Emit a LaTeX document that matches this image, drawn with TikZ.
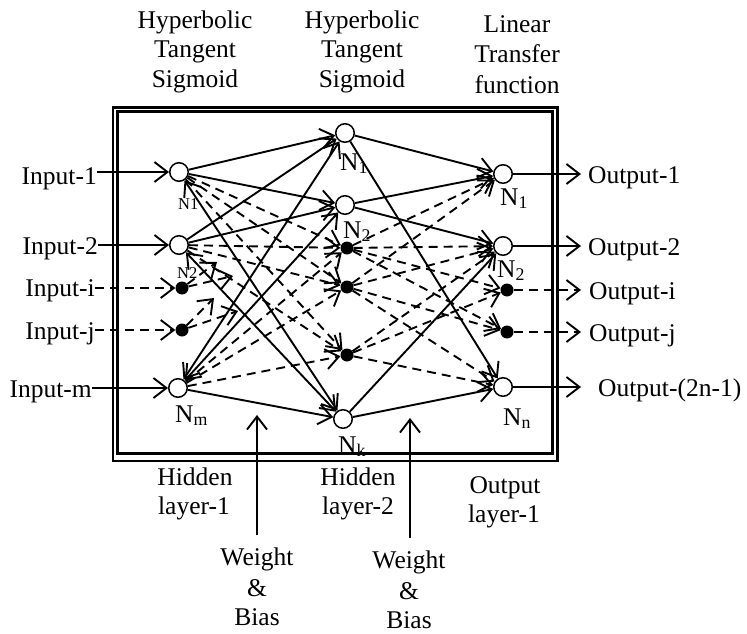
\documentclass[tikz,border=0pt]{standalone}
\usepackage{fontspec}
\setmainfont{Liberation Serif}
\usetikzlibrary{arrows.meta}
\begin{document}
\begin{tikzpicture}[x=1pt,y=-1pt,
  conn/.style={line width=1.9pt,-{Straight Barb[length=13pt,width=20pt]}},
  dconn/.style={conn,dash pattern=on 9pt off 6pt},
  bconn/.style={line width=1.9pt,{Straight Barb[length=13pt,width=20pt]}-{Straight Barb[length=13pt,width=20pt]}},
  hol/.style={circle,draw,line width=1.5pt,fill=white,minimum size=18.5pt,inner sep=0pt},
  fdot/.style={circle,fill=black,minimum size=13pt,inner sep=0pt},
  txt/.style={font=\fontsize{25.5}{30}\selectfont,inner sep=0pt},
  stxt/.style={font=\fontsize{16.5}{19}\selectfont,inner sep=0pt},
  frame/.style={line width=2.4pt}
]
\fill[white] (0,0) rectangle (747,634);
\useasboundingbox (0,0) rectangle (747,634);

% frame
\draw[frame] (113,107.5) rectangle (557.5,461);
\draw[frame] (117.5,111.5) rectangle (552.5,453.5);

% top labels
\node[txt,anchor=base] (h1a) at (195,29) {Hyperbolic};
\node[txt,anchor=base] (h1b) at (195,58) {Tangent};
\node[txt,anchor=base] (h1c) at (195,88) {Sigmoid};
\node[txt,anchor=base] (h2a) at (362,29) {Hyperbolic};
\node[txt,anchor=base] (h2b) at (362,58) {Tangent};
\node[txt,anchor=base] (h2c) at (362,88) {Sigmoid};
\node[txt,anchor=base] (h3a) at (517,33) {Linear};
\node[txt,anchor=base] (h3b) at (517,63) {Transfer};
\node[txt,anchor=base] (h3c) at (517,93) {function};

% bottom labels
\node[txt,anchor=base] (b1a) at (195,485) {Hidden};
\node[txt,anchor=base] (b1b) at (194,514) {layer-1};
\node[txt,anchor=base] (b2a) at (358,485) {Hidden};
\node[txt,anchor=base] (b2b) at (358,514) {layer-2};
\node[txt,anchor=base] (b3a) at (505,493) {Output};
\node[txt,anchor=base] (b3b) at (504,522) {layer-1};
\node[txt,anchor=base] (w1a) at (257,565) {Weight};
\node[txt,anchor=base] (w1b) at (257,596) {\&};
\node[txt,anchor=base] (w1c) at (257,625) {Bias};
\node[txt,anchor=base] (w2a) at (409,568) {Weight};
\node[txt,anchor=base] (w2b) at (409,599) {\&};
\node[txt,anchor=base] (w2c) at (409,628) {Bias};

% weight arrows
\coordinate (wa0) at (257,535);
\coordinate (wa1) at (257,415);
\coordinate (wb0) at (410,538);
\coordinate (wb1) at (410,418);
\draw[conn] (wa0) -- (wa1);
\draw[conn] (wb0) -- (wb1);

% layer 1
\node[hol] (A1) at (179,172) {};
\node[hol] (A2) at (179,245) {};
\node[fdot] (Ai) at (182,288) {};
\node[fdot] (Aj) at (182,330) {};
\node[hol] (Am) at (178,388) {};
% layer 2
\node[hol] (B1) at (345,133) {};
\node[hol] (B2) at (345,205) {};
\node[fdot] (Bi) at (347,248) {};
\node[fdot] (Bj) at (347,287) {};
\node[fdot] (Bl) at (347,355) {};
\node[hol] (Bk) at (343,419) {};
% layer 3
\node[hol] (C1) at (503,174) {};
\node[hol] (C2) at (503,246) {};
\node[fdot] (Ci) at (507,290) {};
\node[fdot] (Cj) at (507,332) {};
\node[hol] (Cn) at (503,387) {};

% node labels
\node[stxt,anchor=base west] (la1) at (178,209) {N1};
\node[stxt,anchor=base west] (la2) at (177,278) {N2};
\node[txt,anchor=base west] (lam) at (175,422) {N\textsubscript{m}};
\node[txt,anchor=base west] (lb1) at (340,170) {N\textsubscript{1}};
\node[txt,anchor=base west] (lb2) at (343,238) {N\textsubscript{2}};
\node[txt,anchor=base west] (lbk) at (338,453) {N\textsubscript{k}};
\node[txt,anchor=base west] (lc1) at (500,205) {N\textsubscript{1}};
\node[txt,anchor=base west] (lc2) at (497,277) {N\textsubscript{2}};
\node[txt,anchor=base west] (lcn) at (503,425) {N\textsubscript{n}};

% inputs
\node[txt,anchor=base east] (in1) at (97,184) {Input-1};
\node[txt,anchor=base east] (in2) at (98,254) {Input-2};
\node[txt,anchor=base east] (ini) at (95,296) {Input-i};
\node[txt,anchor=base east] (inj) at (95,339) {Input-j};
\node[txt,anchor=base east] (inm) at (92,397) {Input-m};
\draw[conn] (in1.east |- A1) -- (A1);
\draw[conn] (in2.east |- A2) -- (A2);
\draw[dconn] (ini.east |- Ai) -- (Ai);
\draw[dconn] (inj.east |- Aj) -- (Aj);
\draw[conn] (inm.east |- Am) -- (Am);

% outputs
\node[txt,anchor=base west,inner xsep=7pt] (o1) at (581,183) {Output-1};
\node[txt,anchor=base west,inner xsep=7pt] (o2) at (581,255) {Output-2};
\node[txt,anchor=base west,inner xsep=8pt] (oi) at (581,299) {Output-i};
\node[txt,anchor=base west,inner xsep=8pt] (oj) at (581,341) {Output-j};
\node[txt,anchor=base west,inner xsep=17pt] (on) at (581,396) {Output-(2n-1)};
\draw[conn] (C1) -- (C1 -| o1.west);
\draw[conn] (C2) -- (C2 -| o2.west);
\draw[dconn] (Ci) -- (Ci -| oi.west);
\draw[dconn] (Cj) -- (Cj -| oj.west);
\draw[conn] (Cn) -- (Cn -| on.west);

% layer 1 -> layer 2 solid
\draw[conn] (A1) -- (B1);
\draw[conn] (A1) -- (B2);
\draw[conn] (A2) -- (B1);
\draw[conn] (A2) -- (B2);
\draw[conn] (Am) -- (Bk);
\draw[bconn] (A1) -- (Bk);
\draw[bconn] (A2) -- (Bk);
\draw[bconn] (Am) -- (B1);
\draw[bconn] (Am) -- (B2);

% layer 1 -> layer 2 dashed
\draw[dconn] (A1) -- (Bi);
\draw[dconn] (A1) -- (Bj);
\draw[dconn] (A1) -- (Bl);
\draw[dconn] (A2) -- (Bi);
\draw[dconn] (A2) -- (Bj);
\draw[dconn] (A2) -- (Bl);
\draw[dconn] (Am) -- (Bi);
\draw[dconn] (Am) -- (Bj);
\draw[dconn] (Am) -- (Bl);
\coordinate (p1) at (217,262);
\coordinate (p2) at (233,276);
\coordinate (p3) at (214,298);
\coordinate (p4) at (238,311);
\draw[dconn] (Ai) -- (p1);
\draw[dconn] (Ai) -- (p2);
\draw[dconn] (Aj) -- (p3);
\draw[dconn] (Aj) -- (p4);

% layer 2 -> layer 3 solid
\draw[conn] (B1) -- (C1);
\draw[conn] (B1) -- (Cn);
\draw[conn] (B2) -- (C1);
\draw[conn] (B2) -- (C2);
\draw[conn] (Bk) -- (C2);
\draw[conn] (Bk) -- (Cn);

% layer 2 -> layer 3 dashed
\draw[dconn] (Bi) -- (C1);
\draw[dconn] (Bi) -- (C2);
\draw[dconn] (Bi) -- (Ci);
\draw[dconn] (Bi) -- (Cj);
\draw[dconn] (Bj) -- (C1);
\draw[dconn] (Bj) -- (C2);
\draw[dconn] (Bj) -- (Cj);
\draw[dconn] (Bj) -- (Cn);
\draw[dconn] (Bl) -- (C2);
\draw[dconn] (Bl) -- (Ci);
\draw[dconn] (Bl) -- (Cn);
\end{tikzpicture}
\end{document}
